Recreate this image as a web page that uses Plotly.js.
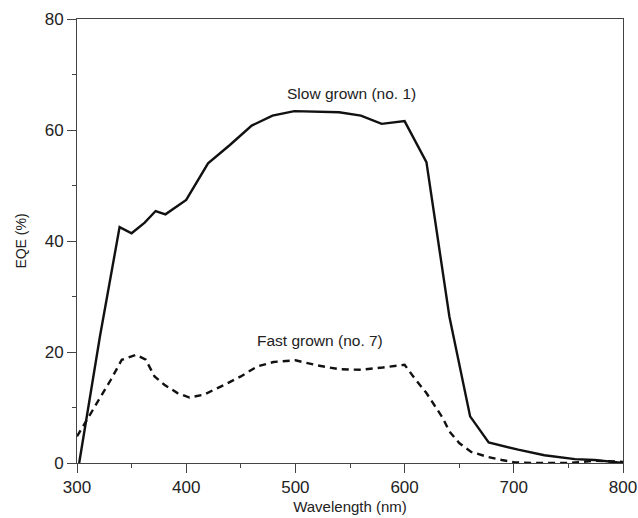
<!DOCTYPE html>
<html><head><meta charset="utf-8">
<script src="https://cdn.plot.ly/plotly-3.0.1.min.js"></script>
<style>html,body{margin:0;padding:0;background:#fff}</style>
</head><body><div id="chart" style="width:638px;height:518px"></div>
<script>
const slowX = [302, 321, 339, 350, 362, 372, 381, 400, 420, 440, 460, 479, 499, 540, 560, 579, 600, 620, 641, 660, 677, 704, 728, 756, 774, 800];
const slowY = [0, 22.8, 42.5, 41.4, 43.3, 45.4, 44.8, 47.4, 54, 57.3, 60.8, 62.6, 63.4, 63.2, 62.6, 61.1, 61.6, 54.2, 26.4, 8.4, 3.7, 2.4, 1.4, 0.7, 0.55, 0];
const fastX = [300, 311, 322, 331, 341, 354, 363, 371, 380, 392, 403, 416, 435, 450, 465, 480, 500, 520, 540, 560, 580, 600, 609, 620, 627, 635, 641, 650, 661, 676, 689, 701, 720, 750, 775, 800];
const fastY = [4.8, 8.4, 12, 15, 18.6, 19.5, 18.6, 15.6, 14.1, 12.6, 11.8, 12.3, 14.1, 15.6, 17.4, 18.2, 18.5, 17.6, 16.9, 16.8, 17.2, 17.7, 15.3, 12.6, 10.5, 8.1, 5.7, 3.6, 2, 1.1, 0.55, 0.1, 0, 0, 0.4, 0.2];
const xTicks = [300, 400, 500, 600, 700, 800];
const yTicks = [0, 20, 40, 60, 80];
const labels = ["Slow grown (no. 1)", "Fast grown (no. 7)"];
const labelPos = [[551, 66.6], [522.5, 22.0]];

const FONT = "'Liberation Sans', Arial, sans-serif";
const traces = [
  {x: slowX, y: slowY, mode: 'lines', line: {color: '#111', width: 2.4}, hoverinfo: 'skip'},
  {x: fastX, y: fastY, mode: 'lines', line: {color: '#111', width: 2.4, dash: '7px,5px'}, hoverinfo: 'skip'}
];
const ann = labels.map((t, i) => ({x: labelPos[i][0], y: labelPos[i][1], text: t, showarrow: false,
  xref: 'x', yref: 'y', font: {family: FONT, size: 15.5, color: '#222'}}));
const layout = {
  width: 638, height: 518,
  margin: {l: 77, r: 15, t: 19, b: 55},
  paper_bgcolor: '#fff', plot_bgcolor: '#fff',
  showlegend: false,
  font: {family: FONT, size: 14, color: '#222'},
  xaxis: {range: [300, 800], tickvals: xTicks, ticks: 'outside', ticklen: 9, tickcolor: '#444',
    showline: true, linecolor: '#444', linewidth: 1, mirror: true, showgrid: false, zeroline: false,
    minor: {dtick: 50, tick0: 300, ticks: 'outside', ticklen: 4, tickcolor: '#444', showgrid: false},
    title: {text: 'Wavelength (nm)', font: {family: FONT, size: 15, color: '#222'}, standoff: 5},
    tickfont: {family: FONT, size: 17, color: '#222'}},
  yaxis: {range: [0, 80], tickvals: yTicks, ticks: 'outside', ticklen: 9, tickcolor: '#444',
    showline: true, linecolor: '#444', linewidth: 1, mirror: true, showgrid: false, zeroline: false,
    minor: {dtick: 10, tick0: 0, ticks: 'outside', ticklen: 4, tickcolor: '#444', showgrid: false},
    title: {text: 'EQE (%)', font: {family: FONT, size: 14, color: '#222'}, standoff: 14},
    tickfont: {family: FONT, size: 17, color: '#222'}},
  annotations: ann
};
Plotly.newPlot('chart', traces, layout, {displayModeBar: false, staticPlot: true});
</script></body></html>
